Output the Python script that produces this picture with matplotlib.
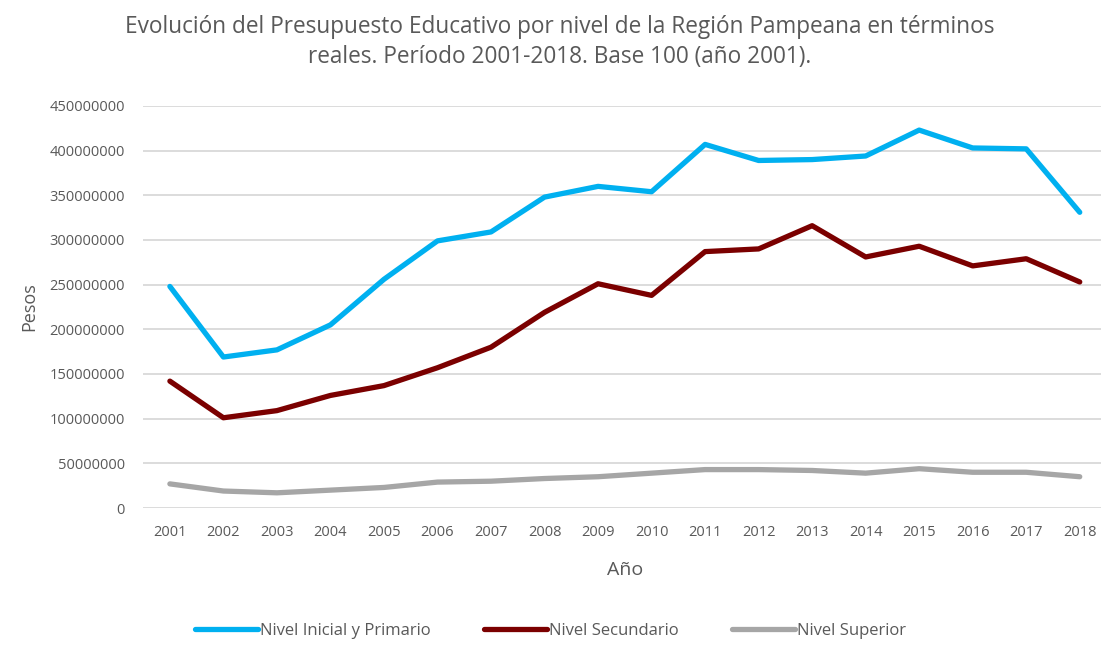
import matplotlib.pyplot as plt
import numpy as np

plt.rcParams['font.family'] = ['Open Sans', 'DejaVu Sans']

years = [str(y) for y in range(2001, 2019)]
inicial_primario = [248, 169, 177, 205, 256, 299, 309, 348, 360, 354,
                    407, 389, 390, 394, 423, 403, 402, 331]
secundario = [142, 101, 109, 126, 137, 157, 180, 219, 251, 238,
              287, 290, 316, 281, 293, 271, 279, 253]
superior = [27, 19, 17, 20, 23, 29, 30, 33, 35, 39,
            43, 43, 42, 39, 44, 40, 40, 35]
# values read in millions of pesos
inicial_primario = np.array(inicial_primario) * 1e6
secundario = np.array(secundario) * 1e6
superior = np.array(superior) * 1e6

text_col = "#595959"

fig = plt.figure(figsize=(11.01, 6.45), dpi=100)
ax = fig.add_axes([0.130, 0.2124, 0.875, 0.6233])

x = np.arange(len(years))
ax.plot(x, inicial_primario, color="#00B0F0", lw=3.8, solid_capstyle="round",
        solid_joinstyle="round", label="Nivel Inicial y Primario")
ax.plot(x, secundario, color="#7B0000", lw=3.8, solid_capstyle="round",
        solid_joinstyle="round", label="Nivel Secundario")
ax.plot(x, superior, color="#A6A6A6", lw=3.8, solid_capstyle="round",
        solid_joinstyle="round", label="Nivel Superior")

ax.set_xlim(-0.5, len(years) - 0.5)
ax.set_ylim(0, 450000000)
ax.set_yticks(np.arange(0, 450000001, 50000000))
ax.set_yticklabels([f"{int(v)}" for v in np.arange(0, 450000001, 50000000)])
ax.set_xticks(x)
ax.set_xticklabels(years)
ax.tick_params(axis="both", length=0, labelsize=10.5, colors=text_col)
ax.tick_params(axis="y", pad=13)
ax.tick_params(axis="x", pad=12)
ax.grid(axis="y", color="#D9D9D9", lw=1.3)
ax.set_axisbelow(True)
for s in ax.spines.values():
    s.set_visible(False)

ax.set_xlabel("Año", fontsize=14, color=text_col, labelpad=15)
ax.set_ylabel("Pesos", fontsize=13, color=text_col, labelpad=8)

fig.text(0.508, 0.935, "Evolución del Presupuesto Educativo por nivel de la Región Pampeana en términos\n"
         "reales. Período 2001-2018. Base 100 (año 2001).",
         ha="center", va="center", fontsize=16.3, color=text_col, linespacing=1.38)

fig.legend(loc="center", bbox_to_anchor=(0.5, 0.022), ncol=3, frameon=False,
           fontsize=12, handlelength=3.8, handletextpad=0.1, columnspacing=3.2,
           labelcolor=text_col)

fig.savefig("out.png", dpi=100)
